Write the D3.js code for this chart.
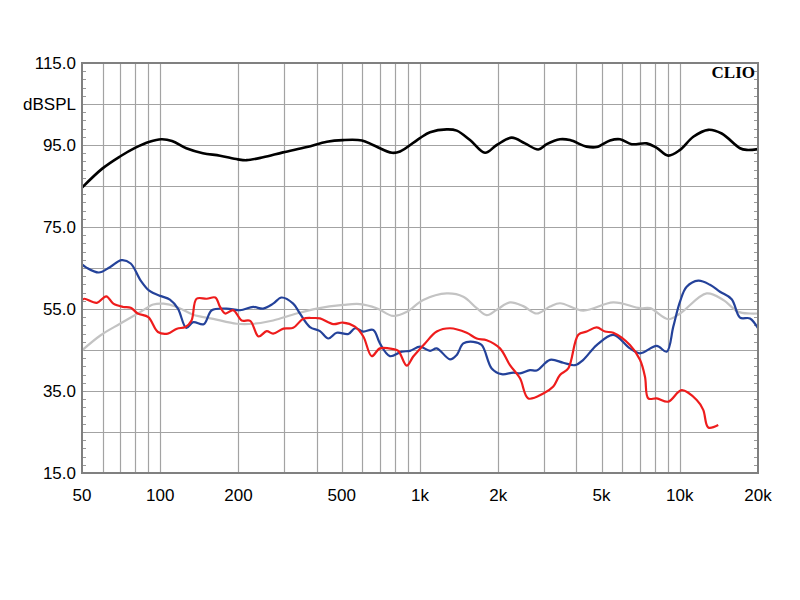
<!DOCTYPE html>
<html>
<head>
<meta charset="utf-8">
<script src="https://cdn.jsdelivr.net/npm/d3@7"></script>
<style>
    body { margin: 0; background: #fff; }
    .label { font-family: "Liberation Sans", Arial, sans-serif; font-size: 17px; fill: #000; }
</style>
</head>
<body>
<div id="chart"></div>
<script>
// frequency (Hz) and level (dBSPL) for each trace
var blackFreq = [50, 60, 70, 80, 91, 101, 111, 126, 146, 170, 199, 215, 249, 297, 367, 438, 505, 598, 659, 780, 838, 1000, 1093, 1267, 1385, 1558, 1779, 1974, 2254, 2536, 2853, 3074, 3458, 3779, 4381, 4787, 5386, 5885, 6530, 7460, 8150, 9030, 10020, 11270, 12870, 14500, 17050, 18090, 20000];
var blackDb   = [84.6, 89.3, 92.2, 94.3, 95.8, 96.4, 96.0, 94.2, 93.0, 92.4, 91.5, 91.3, 92.0, 93.2, 94.5, 95.8, 96.2, 96.1, 95.0, 93.1, 93.4, 96.7, 98.1, 98.8, 98.5, 96.2, 93.1, 95.0, 96.8, 95.4, 93.9, 95.2, 96.4, 96.2, 94.6, 94.5, 96.1, 96.4, 95.2, 95.4, 94.3, 92.4, 93.8, 97.0, 98.7, 97.8, 94.2, 93.8, 94.0];

var grayFreq = [50, 59, 70, 84, 94, 103, 116, 134, 160, 197, 228, 272, 335, 400, 507, 587, 681, 789, 889, 1029, 1267, 1468, 1653, 1806, 1974, 2220, 2497, 2812, 3165, 3458, 4251, 5546, 7026, 7680, 9030, 10020, 12690, 14700, 16790, 18630, 20000];
var grayDb   = [44.9, 48.6, 51.4, 54.3, 56.1, 56.3, 55.5, 53.6, 52.6, 51.4, 51.4, 52.2, 53.9, 55.1, 56.0, 56.2, 55.2, 53.3, 54.3, 57.2, 58.8, 58.0, 55.2, 53.5, 54.8, 56.6, 55.7, 53.9, 55.6, 56.4, 54.6, 56.6, 55.2, 55.2, 52.5, 53.9, 58.8, 57.2, 54.3, 53.9, 53.9];

var blueFreq = [50, 52, 58, 64, 71, 77, 84, 91, 100, 109, 117, 126, 134, 147, 158, 180, 203, 228, 249, 272, 293, 325, 345, 377, 412, 444, 478, 530, 562, 605, 661, 701, 766, 850, 915, 1000, 1093, 1160, 1305, 1385, 1468, 1604, 1728, 1888, 2063, 2287, 2426, 2651, 2812, 3165, 3561, 3950, 4251, 4787, 5546, 6430, 7026, 8150, 8905, 9440, 10020, 10630, 11780, 13070, 14280, 15840, 17050, 18630, 20000];
var blueDb   = [65.9, 65.1, 63.9, 65.2, 66.9, 66.1, 62.0, 59.4, 58.2, 57.3, 55.1, 50.4, 51.8, 51.3, 54.7, 55.1, 54.7, 55.5, 55.1, 56.3, 57.8, 56.3, 53.9, 50.6, 49.6, 47.8, 49.2, 48.9, 50.3, 49.5, 49.9, 46.6, 43.5, 44.6, 44.8, 45.8, 44.8, 45.4, 42.7, 43.8, 46.6, 47.0, 46.2, 40.5, 39.1, 39.5, 39.3, 40.1, 40.0, 42.6, 41.9, 41.3, 42.6, 46.2, 48.7, 45.4, 44.2, 46.0, 44.6, 50.7, 56.8, 60.4, 61.9, 60.9, 59.2, 57.4, 52.9, 52.7, 50.3];

var redFreq = [50, 51, 57, 62, 66, 72, 77, 82, 90, 98, 107, 116, 125, 132, 138, 151, 163, 170, 178, 191, 206, 222, 239, 257, 272, 298, 325, 355, 388, 412, 464, 505, 562, 605, 652, 701, 789, 825, 889, 942, 1045, 1160, 1305, 1513, 1653, 1806, 2032, 2220, 2426, 2611, 2983, 3259, 3458, 3722, 4067, 4381, 4787, 5153, 5546, 6430, 7026, 7345, 7562, 8150, 9030, 10170, 11620, 12310, 12870, 14060];
var redDb   = [57.1, 57.5, 56.5, 58.1, 56.3, 55.5, 55.3, 53.9, 53.0, 49.4, 49.0, 50.2, 50.6, 52.2, 57.5, 57.5, 57.8, 55.5, 53.9, 54.7, 52.2, 52.1, 48.3, 49.6, 49.0, 50.2, 50.4, 52.6, 52.8, 52.7, 51.3, 51.7, 50.7, 48.3, 43.5, 45.4, 45.2, 44.8, 41.2, 43.4, 46.6, 49.5, 50.3, 49.2, 47.8, 47.4, 45.4, 41.3, 38.1, 33.2, 34.4, 36.1, 38.9, 40.5, 48.7, 49.5, 50.5, 49.5, 49.2, 46.2, 42.6, 38.5, 33.2, 33.2, 32.4, 35.2, 32.8, 30.4, 26.1, 26.7];

var xTickValues = [50, 100, 200, 500, 1000, 2000, 5000, 10000, 20000];
var xTickLabels = ["50", "100", "200", "500", "1k", "2k", "5k", "10k", "20k"];
var yTickValues = [115, 95, 75, 55, 35, 15];
var yTickLabels = ["115.0", "95.0", "75.0", "55.0", "35.0", "15.0"];
var yUnit = "dBSPL";

var margin = {top: 63, right: 42, bottom: 127, left: 82},
    width = 800 - margin.left - margin.right,
    height = 600 - margin.top - margin.bottom;

var x = d3.scaleLog()
    .domain([50, 20000])
    .range([0, width]);

var y = d3.scaleLinear()
    .domain([15, 115])
    .range([height, 0]);

var svg = d3.select("#chart").append("svg")
    .attr("width", 800)
    .attr("height", 600)
    .append("g")
    .attr("transform", "translate(" + margin.left + "," + margin.top + ")");

// vertical grid: every 1-2-3..9 step of each decade
var xGrid = [];
[10, 100, 1000, 10000].forEach(function(dec) {
    for (var k = 1; k < 10; k++) {
        var f = dec * k;
        if (f > 50 && f < 20000) xGrid.push(f);
    }
});

svg.selectAll(".vgrid")
    .data(xGrid)
    .enter().append("line")
    .attr("class", "vgrid")
    .attr("x1", function(d) { return Math.round(x(d)) + 0.5; })
    .attr("x2", function(d) { return Math.round(x(d)) + 0.5; })
    .attr("y1", 0)
    .attr("y2", height)
    .attr("stroke", "#a3a3a3")
    .attr("stroke-width", 1.2);

svg.selectAll(".hgrid")
    .data(d3.range(25, 115, 10))
    .enter().append("line")
    .attr("class", "hgrid")
    .attr("x1", 0)
    .attr("x2", width)
    .attr("y1", function(d) { return Math.round(y(d)) + 0.5; })
    .attr("y2", function(d) { return Math.round(y(d)) + 0.5; })
    .attr("stroke", "#a3a3a3")
    .attr("stroke-width", 1.2);

// small inward ticks every 2 dB on both sides
var minor = d3.range(17, 115, 2);
svg.selectAll(".ltick")
    .data(minor)
    .enter().append("line")
    .attr("x1", 0).attr("x2", 4)
    .attr("y1", function(d) { return Math.round(y(d)) + 0.5; })
    .attr("y2", function(d) { return Math.round(y(d)) + 0.5; })
    .attr("stroke", "#999");
svg.selectAll(".rtick")
    .data(minor)
    .enter().append("line")
    .attr("x1", width - 4).attr("x2", width)
    .attr("y1", function(d) { return Math.round(y(d)) + 0.5; })
    .attr("y2", function(d) { return Math.round(y(d)) + 0.5; })
    .attr("stroke", "#999");

// traces
var line = d3.line()
    .x(function(d) { return x(d[0]); })
    .y(function(d) { return y(d[1]); })
    .curve(d3.curveCatmullRom.alpha(0.5));

function addTrace(freqs, dbs, color, w) {
    svg.append("path")
        .datum(d3.zip(freqs, dbs))
        .attr("fill", "none")
        .attr("stroke", color)
        .attr("stroke-width", w)
        .attr("stroke-linejoin", "round")
        .attr("d", line);
}

addTrace(grayFreq, grayDb, "#c3c3c3", 2.2);
addTrace(blueFreq, blueDb, "#24429a", 2.2);
addTrace(redFreq, redDb, "#ee1c1c", 2.2);
addTrace(blackFreq, blackDb, "#000", 2.6);

// frame
svg.append("rect")
    .attr("x", 0)
    .attr("y", 0)
    .attr("width", width)
    .attr("height", height)
    .attr("fill", "none")
    .attr("stroke", "#808080")
    .attr("stroke-width", 2);

// axis labels
svg.selectAll(".ylab")
    .data(yTickValues)
    .enter().append("text")
    .attr("class", "label")
    .attr("x", -6)
    .attr("y", function(d) { return y(d) + 6; })
    .attr("text-anchor", "end")
    .text(function(d, i) { return yTickLabels[i]; });

svg.append("text")
    .attr("class", "label")
    .attr("x", -6)
    .attr("y", y(105) + 6)
    .attr("text-anchor", "end")
    .text(yUnit);

svg.selectAll(".xlab")
    .data(xTickValues)
    .enter().append("text")
    .attr("class", "label")
    .attr("x", function(d) { return x(d); })
    .attr("y", height + 28)
    .attr("text-anchor", "middle")
    .text(function(d, i) { return xTickLabels[i]; });

svg.append("text")
    .attr("x", width - 3)
    .attr("y", 15)
    .attr("text-anchor", "end")
    .style("font-family", "'Liberation Serif', serif")
    .style("font-weight", "bold")
    .style("font-size", "17px")
    .text("CLIO");
</script>
</body>
</html>
